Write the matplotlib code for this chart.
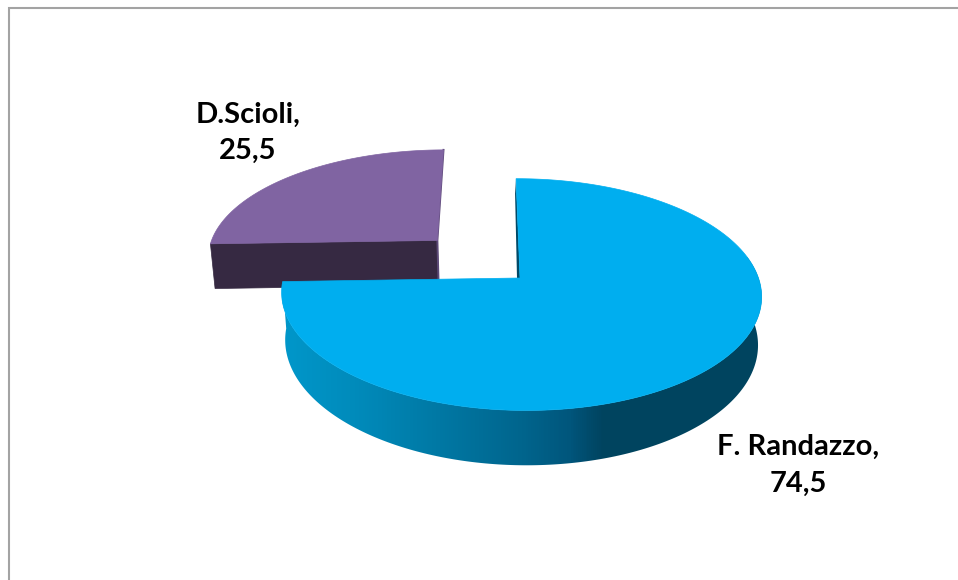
import numpy as np
from matplotlib import pyplot as plt
from matplotlib.colors import LinearSegmentedColormap
from matplotlib.patches import Polygon

names = ["F. Randazzo", "D.Scioli"]
values = [74.5, 25.5]

top_colors = ["#00aeef", "#8064a2"]
side_dark = ["#004a68", "#5d4a78"]
explode = [0.0, 0.5]
stretch = [1.0, 1.005]
label_pos = [(798, 465.5), (248, 133)]

# wall shading, left to right
wall_cmap = LinearSegmentedColormap.from_list("wall", [
    (0.00, "#0097ca"), (0.15, "#008bbb"), (0.32, "#0079a5"), (0.50, "#00658d"),
    (0.60, "#00567c"), (0.67, "#00445f"), (1.00, "#00455f")])

# tilted disc, pixel coordinates of the picture
cx, cy = 520, 278
rx, ry = 237.5, 113.5
skew = -4.5
persp_y, persp_x = 0.143, -0.004
depth = 47
shrink = 0.985
shrink_x = 520


def project(u, v):
    w = 1 + persp_y * v + persp_x * u
    return cx + (rx * u + skew * v) / w, cy - ry * v / w, w


def lower(u, v):
    x, y, w = project(u, v)
    return shrink_x + (x - shrink_x) * shrink, y + depth / w


fig = plt.figure(figsize=(9.58, 5.8), dpi=100)
ax = fig.add_axes([0, 0, 1, 1])
ax.axis("off")

# chart frame, only left and top are inside the crop
ax.plot([9, 9, 958], [580, 8, 8], color="#a3a3a3", lw=1.5, solid_joinstyle="miter")

total = sum(values)
fractions = np.array(values) / total
starts = np.concatenate([[0], np.cumsum(fractions)[:-1]]) * 2 * np.pi
stops = np.cumsum(fractions) * 2 * np.pi

# far slice goes first so the big one covers it
for i in [1, 0]:
    t = np.linspace(starts[i], stops[i], 300)
    mid = (starts[i] + stops[i]) / 2
    du = explode[i] * np.sin(mid)
    dv = explode[i] * np.cos(mid)
    u = du + stretch[i] * np.sin(t)
    v = dv + np.cos(t)

    xt, yt, _ = project(u, v)
    xb, yb = lower(u, v)
    xc, yc, _ = project(du, dv)
    xcb, ycb = lower(du, dv)

    if i == 0:
        # front wall with a left to right gradient
        front = v < 0.2
        band = np.r_[np.c_[xt[front], yt[front]], np.c_[xb[front], yb[front]][::-1]]
        clip = Polygon(band, closed=True, transform=ax.transData)
        grad = ax.imshow(np.linspace(0, 1, 480).reshape(1, -1), cmap=wall_cmap, aspect="auto",
                         extent=[282, 762, 480, 200], zorder=2)
        grad.set_clip_path(clip)
        # thin dark side of the cut next to the gap
        ax.fill([xt[0], xc, xc - 3, xt[0] - 1], [yt[0], yc, yc, yt[0] + 15], color=side_dark[i], lw=0, zorder=2)
    else:
        # only the cut face towards the viewer shows
        ax.fill([xt[0], xc, xcb, xb[0]], [yt[0], yc, ycb, yb[0]], color="#362942", lw=0.5, zorder=2)
        ax.plot([xt[-1], xc, xcb], [yt[-1], yc, ycb], color=side_dark[i], lw=1.4, zorder=2)

    ax.fill(np.r_[xc, xt], np.r_[yc, yt], color=top_colors[i], lw=0.5, zorder=3)

for i in range(len(names)):
    label = names[i] + ",\n" + str(values[i]).replace(".", ",")
    ax.text(label_pos[i][0], label_pos[i][1], label, ha="center", va="center",
            family="Lato", weight="bold", fontsize=21, linespacing=1.5, color="black", zorder=5)

ax.set_xlim(0, 958)
ax.set_ylim(580, 0)

plt.savefig("out.png", dpi=100)
